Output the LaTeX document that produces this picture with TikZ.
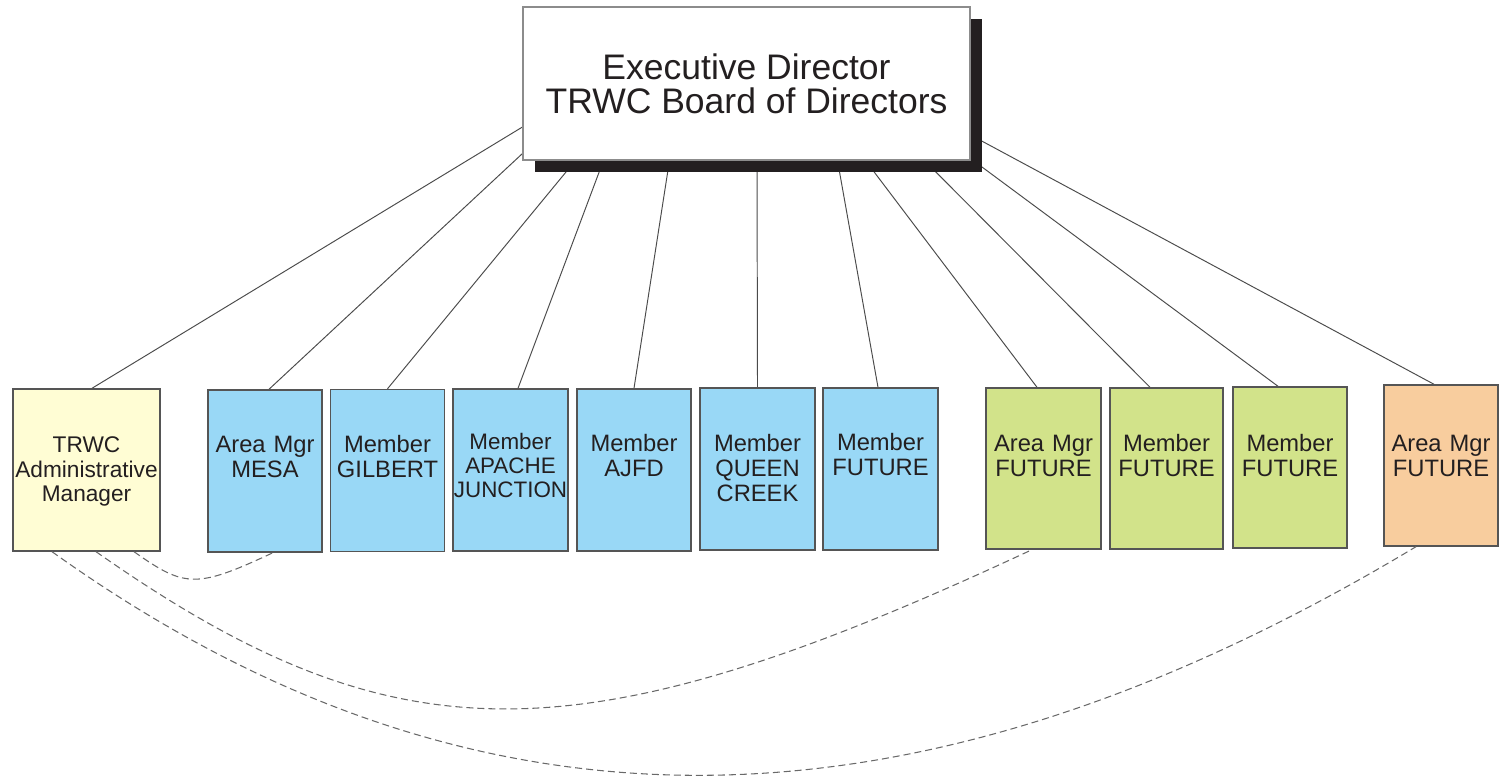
\documentclass[tikz,border=0pt]{standalone}
\usepackage{fontspec}
\setmainfont{Liberation Sans}
\usetikzlibrary{shadows}
\definecolor{AdminYellow}{RGB}{255, 253, 212}
\definecolor{MemberBlue}{RGB}{153, 216, 246}
\definecolor{FutureGreen}{RGB}{210, 227, 138}
\definecolor{FutureOrange}{RGB}{248, 205, 158}
\definecolor{EdgeGray}{RGB}{85, 85, 85}
\definecolor{LinkGray}{RGB}{75, 75, 75}
\definecolor{DashGray}{RGB}{105, 105, 105}
\definecolor{InkBlack}{RGB}{35, 31, 32}
\pgfdeclarelayer{background}
\pgfsetlayers{background,main}
\tikzstyle{director} = [rectangle, minimum width=8.94cm, minimum height=3.06cm, inner sep=0pt, align=center, draw=black!45, fill=white, line width=0.6pt, text=InkBlack, font=\fontsize{20.2}{19.4}\selectfont, drop shadow={shadow xshift=0.24cm, shadow yshift=-0.24cm, fill=InkBlack, opacity=1}]
\tikzstyle{office} = [rectangle, inner sep=0pt, text width=2.28cm, align=center, text height=1.26cm, text depth=1.98cm, draw=EdgeGray, line width=0.8pt, text=InkBlack, font=\fontsize{13.5}{14.2}\selectfont]
\tikzstyle{link} = [draw=LinkGray, line width=0.55pt]
\tikzstyle{liaison} = [draw=DashGray, line width=0.6pt, dash pattern=on 0.14cm off 0.08cm]

\begin{document}
\begin{tikzpicture}
\useasboundingbox (0,0) rectangle (30.02,15.6);

% Direction
\node (exec) [director] at (14.93,13.93) {Executive Director\\TRWC Board of Directors};

% Membres
\node (admin) [office, fill=AdminYellow, text width=2.94cm, text height=1.28cm, text depth=1.96cm, font=\fontsize{12.9}{13.9}\selectfont] at (1.73,6.20) {TRWC\\Administrative\\Manager};
\node (mesa) [office, fill=MemberBlue] at (5.30,6.18) {Area Mgr\\MESA};
\node (gilbert) [office, fill=MemberBlue] at (7.75,6.19) {Member\\GILBERT};
\node (apache) [office, fill=MemberBlue, text width=2.30cm, text height=1.22cm, text depth=2.02cm, font=\fontsize{12.75}{13.4}\selectfont] at (10.21,6.20) {Member\\APACHE\\JUNCTION};
\node (ajfd) [office, fill=MemberBlue] at (12.68,6.20) {Member\\AJFD};
\node (queen) [office, fill=MemberBlue, text width=2.30cm, text height=1.28cm, text depth=1.96cm] at (15.15,6.22) {Member\\QUEEN\\CREEK};
\node (memfuture) [office, fill=MemberBlue, text width=2.30cm] at (17.61,6.22) {Member\\FUTURE};
\node (areagreen) [office, fill=FutureGreen, text width=2.30cm, text height=1.28cm, text depth=1.94cm] at (20.87,6.23) {Area Mgr\\FUTURE};
\node (memgreena) [office, fill=FutureGreen, text width=2.26cm, text height=1.28cm, text depth=1.94cm] at (23.33,6.23) {Member\\FUTURE};
\node (memgreenb) [office, fill=FutureGreen, text height=1.30cm, text depth=1.92cm] at (25.80,6.25) {Member\\FUTURE};
\node (areaorange) [office, fill=FutureOrange, text height=1.34cm, text depth=1.88cm] at (28.82,6.29) {Area Mgr\\FUTURE};

% Liens hierarchiques
\begin{pgfonlayer}{background}
\draw [link] ([xshift=0.11cm]admin.north) -- ([yshift=-0.87cm]exec.west);
\draw [link] ([xshift=0.08cm]mesa.north) -- ([yshift=0.14cm]exec.south west);
\draw [link] (gilbert.north) -- ([xshift=1.06cm]exec.south west);
\draw [link] ([xshift=0.15cm]apache.north) -- ([xshift=1.62cm]exec.south west);
\draw [link] (ajfd.north) -- ([xshift=2.94cm]exec.south west);
\draw [link] (queen.north) -- ([xshift=0.21cm]exec.south);
\draw [link] ([xshift=-0.05cm]memfuture.north) -- ([xshift=6.30cm]exec.south west);
\draw [link] ([xshift=-0.13cm]areagreen.north) -- ([xshift=6.86cm]exec.south west);
\draw [link] ([xshift=-0.33cm]memgreena.north) -- ([xshift=8.04cm]exec.south west);
\draw [link] ([xshift=-0.24cm]memgreenb.north) -- ([yshift=0.04cm]exec.south east);
\draw [link] ([xshift=-0.14cm]areaorange.north) -- ([yshift=-1.03cm]exec.east);
\end{pgfonlayer}

% Liaisons administratives
\draw [liaison] ([xshift=0.95cm]admin.south) .. controls +(1.02,-0.72) and +(-1.54,-0.72) .. ([xshift=0.16cm]mesa.south);
\draw [liaison] ([xshift=0.19cm]admin.south) .. controls +(6.02,-4.22) and +(-9.04,-4.22) .. ([xshift=-0.23cm]areagreen.south);
\draw [liaison] ([xshift=-0.69cm]admin.south) .. controls +(8.36,-5.98) and +(-10.12,-6.08) .. ([xshift=-0.5cm]areaorange.south);

\end{tikzpicture}
\end{document}
